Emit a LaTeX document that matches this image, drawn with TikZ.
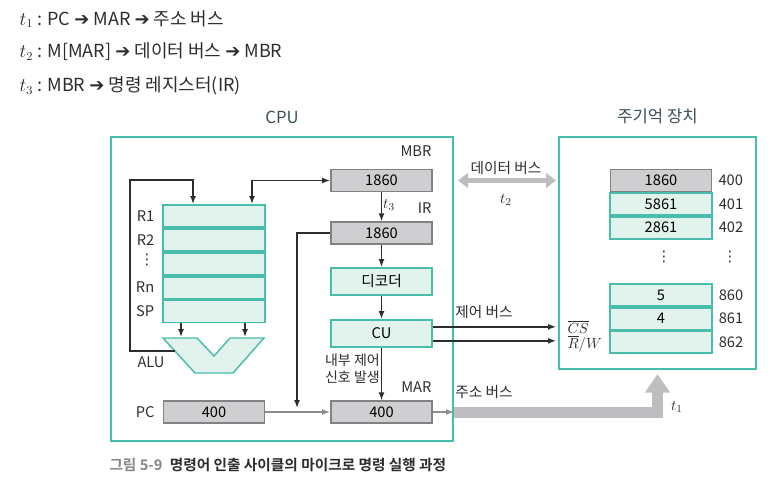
\documentclass[tikz,border=0pt]{standalone}
\usepackage{fontspec}
\setmainfont{Noto Sans CJK KR}[BoldFont={Noto Sans CJK KR Bold}]
\newfontfamily\arrowfont{DejaVu Sans Bold}
\newfontfamily\dotfont{DejaVu Sans}
\usetikzlibrary{arrows.meta,positioning}

\definecolor{cellline}{RGB}{72,190,170}
\definecolor{cellfill}{RGB}{226,243,238}
\definecolor{regline}{RGB}{130,130,132}
\definecolor{regfill}{RGB}{207,207,209}
\definecolor{busgray}{RGB}{190,190,193}
\definecolor{wiregray}{RGB}{140,140,142}
\definecolor{wireblack}{RGB}{45,45,45}
\definecolor{capgray}{RGB}{135,135,135}
\definecolor{titlegray}{RGB}{60,78,88}

\tikzset{every picture/.style={line width=0.75pt}}
\tikzset{
  cell/.style={draw=cellline, fill=cellfill, line width=1.4pt, inner sep=0pt,
    minimum width=76pt, minimum height=16.4pt, font=\fontsize{11}{13}\selectfont},
  greycell/.style={cell, draw=regline, fill=regfill, line width=1.1pt},
  frame/.style={draw=cellline, line width=1.5pt, inner sep=0pt},
  lbl/.style={inner sep=0.75pt, text=wireblack, font=\fontsize{11}{13}\selectfont},
  toptext/.style={anchor=west, inner sep=0.75pt, text=wireblack, font=\fontsize{13.5}{16}\selectfont},
  dots/.style={inner sep=0pt, text=wireblack, font=\dotfont\fontsize{11}{12}\selectfont},
  wire/.style={draw=wireblack, line width=1.1pt, >={Latex[length=6pt,width=4.5pt]}},
  greywire/.style={draw=wiregray, line width=1.1pt, >={Latex[length=6pt,width=4.5pt]}},
}

\begin{document}
\begin{tikzpicture}[x=0.75pt,y=0.75pt,yscale=-1,xscale=1]
\useasboundingbox (0,0) rectangle (780,492);

% Text Node
\node[toptext] (line1) at (18,19) {$t_1$ : PC {\arrowfont ➔} MAR {\arrowfont ➔} 주소 버스};
% Text Node
\node[toptext] (line2) at (18,52) {$t_2$ : M[MAR] {\arrowfont ➔} 데이터 버스 {\arrowfont ➔} MBR};
% Text Node
\node[toptext] (line3) at (18,86) {$t_3$ : MBR {\arrowfont ➔} 명령 레지스터(IR)};

% frames
\node[frame, minimum width=256.5pt, minimum height=228pt] (cpu) at (282,289) {};
\node[frame, minimum width=147.75pt, minimum height=174pt] (mem) at (657.5,253) {};
\node[anchor=south, lbl, text=titlegray, font=\fontsize{12.5}{15}\selectfont] (cpulbl) at ([yshift=-8pt]cpu.north) {CPU};
\node[anchor=south, lbl, text=titlegray, font=\fontsize{12.5}{15}\selectfont] (memlbl) at ([yshift=-8pt]mem.north) {주기억 장치};

% registers of the CPU
\node[greycell] (MBR) at (381.5,180.5) {1860};
\node[greycell] (IR) at (381.5,233) {1860};
\node[cell, minimum height=20.25pt] (dec) at (381.5,281.5) {디코더};
\node[cell, minimum height=20.25pt] (CU) at (381.5,333.5) {CU};
\node[greycell] (MAR) at (381.5,412) {400};
\node[greycell] (PC) at (214,412) {400};

\node[anchor=south east, lbl] (MBRlbl) at ([yshift=-8pt]MBR.north east) {MBR};
\node[anchor=south east, lbl] (IRlbl) at ([yshift=-5pt]IR.north east) {IR};
\node[anchor=south east, lbl] (MARlbl) at ([yshift=-4.5pt]MAR.north east) {MAR};
\node[anchor=east, lbl] (PClbl) at ([xshift=-5pt]PC.west) {PC};

% register file
\node[cell, minimum height=16.5pt] (rR1) at (214,216) {};
\node[cell, minimum height=16.5pt, below=0pt of rR1] (rR2) {};
\node[cell, minimum height=16.5pt, below=0pt of rR2] (rDots) {};
\node[cell, minimum height=16.5pt, below=0pt of rDots] (rRn) {};
\node[cell, minimum height=16.5pt, below=0pt of rRn] (rSP) {};
\node[anchor=east, lbl] (lR1) at ([xshift=-5pt]rR1.west) {R1};
\node[anchor=east, lbl] (lR2) at ([xshift=-5pt]rR2.west) {R2};
\node[dots] (lDots) at (147,260) {⋮};
\node[anchor=east, lbl] (lRn) at ([xshift=-5pt]rRn.west) {Rn};
\node[anchor=east, lbl] (lSP) at ([xshift=-5pt]rSP.west) {SP};

% ALU
\draw[draw=cellline, fill=cellfill, line width=1.1pt] (163,338) -- (197,338) -- (214,356) -- (230,338) -- (264,338) -- (233,373) -- (195,373) -- cycle;
\node[lbl] (ALUlbl) at (151,362) {ALU};
\coordinate (aluA) at (181,337);
\coordinate (aluB) at (245,337);
\coordinate (aluL) at (175,351);
\coordinate (fbTop) at (130,180);
\coordinate (regA) at (193,204);
\coordinate (regB) at (252,204);
\coordinate (irdrop) at (297,408);

% memory cells
\node[greycell] (m400) at (661,180.5) {1860};
\node[cell, below=0pt of m400] (m401) {5861};
\node[cell, below=0pt of m401] (m402) {2861};
\node[cell] (m860) at (661,295) {5};
\node[cell, below=0pt of m860] (m861) {4};
\node[cell, below=0pt of m861] (m862) {};
\node[anchor=west, lbl] (a400) at ([xshift=3.5pt]m400.east) {400};
\node[anchor=west, lbl] (a401) at ([xshift=3.5pt]m401.east) {401};
\node[anchor=west, lbl] (a402) at ([xshift=3.5pt]m402.east) {402};
\node[anchor=west, lbl] (a860) at ([xshift=3.5pt]m860.east) {860};
\node[anchor=west, lbl] (a861) at ([xshift=3.5pt]m861.east) {861};
\node[anchor=west, lbl] (a862) at ([xshift=3.5pt]m862.east) {862};
\node[dots] (mdots) at (664,257) {⋮};
\node[dots] (adots) at (730,257) {⋮};
\node[anchor=west, lbl] (cs) at (566,327) {$\overline{CS}$};
\node[anchor=west, lbl] (rw) at (566,344) {$\overline{R}/W$};

% connectors inside the CPU
\draw[wire, ->] (MBR) -- node[right, lbl, pos=0.45] (t3) {$t_3$} (IR);
\draw[wire, ->] (IR) -- (dec);
\draw[wire, ->] (dec) -- (CU);
\draw[wire, ->] (CU) -- node[left, lbl, align=right, font=\fontsize{10.5}{13}\selectfont, pos=0.4] (sig) {내부 제어\\신호 발생} (MAR);
\draw[wire, <->] (MBR.west) -| (regB);
\draw[wire, ->] (aluL) -| (fbTop) -| (regA);
\draw[wire, ->] (rSP.south -| aluA) -- (aluA);
\draw[wire, ->] (rSP.south -| aluB) -- (aluB);
\draw[wire, ->] (IR.west) -| (irdrop);
\draw[greywire, ->] (PC) -- (MAR);
\draw[greywire, ->] (MAR) -- (MAR.east -| cpu.east);

% buses
\draw[busgray, line width=3.75pt, {Triangle[width=11pt,length=7.5pt]}-{Triangle[width=11pt,length=7.5pt]}, shorten <=3pt, shorten >=1.5pt] (cpu.east |- MBR) -- node[above=1.5pt, lbl] (dbus) {데이터 버스} node[below=8pt, lbl] (t2) {$t_2$} (mem.west |- MBR);
\coordinate (csin) at ([yshift=-5pt]CU.east);
\coordinate (rwin) at ([yshift=5.5pt]CU.east);
\draw[wire, ->, shorten >=1.5pt] (csin) -- (csin -| mem.west);
\draw[wire, ->, shorten >=1.5pt] (rwin) -- (rwin -| mem.west);
\node[lbl] (cbus) at (484,312) {제어 버스};
\draw[busgray, line width=8.25pt, -{Triangle[width=18pt,length=14pt]}, shorten >=3pt] (MAR.east -| cpu.east) -| (mem.south);
\node[lbl] (abus) at (484,392) {주소 버스};
\node[lbl] (t1) at (677,407) {$t_1$};

% caption
\node[anchor=west, lbl, font=\bfseries\fontsize{11}{13}\selectfont] (caption) at (108,465) {\textcolor{capgray}{그림 5-9}\enspace 명령어 인출 사이클의 마이크로 명령 실행 과정};

\end{tikzpicture}
\end{document}
